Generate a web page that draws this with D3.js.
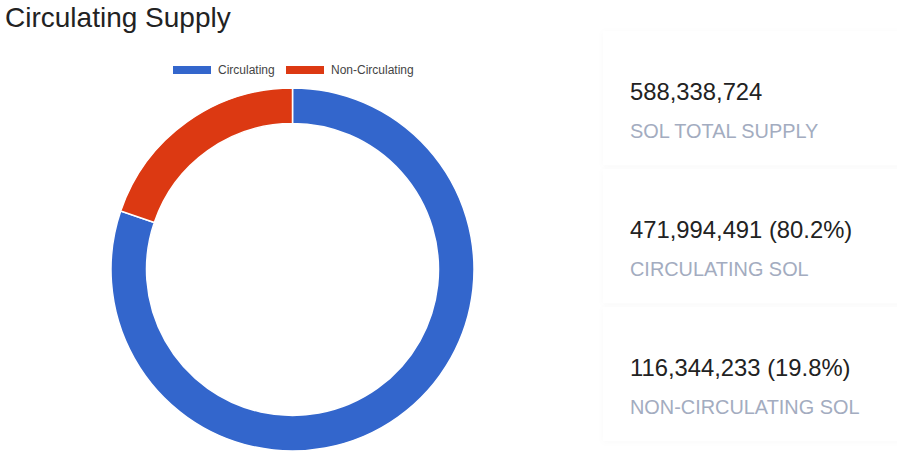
<!DOCTYPE html>
<html><head><meta charset="utf-8">
<script src="https://cdn.jsdelivr.net/npm/d3@7"></script>
<style>
html,body{margin:0;padding:0;background:#fff;overflow:hidden;}
svg{display:block;font-family:Arial,"Liberation Sans",sans-serif;}
</style></head><body>
<svg id="c" width="897" height="462"></svg>
<script>
const categories = ["Circulating", "Non-Circulating"];
const values = [471994491, 116344233];
const colors = ["#3366cc", "#dc3912"];
const statNumbers = ["588,338,724", "471,994,491 (80.2%)", "116,344,233 (19.8%)"];
const statLabels = ["SOL TOTAL SUPPLY", "CIRCULATING SOL", "NON-CIRCULATING SOL"];

const svg = d3.select("#c");
const defs = svg.append("defs");
const f = defs.append("filter").attr("id","sh").attr("x","-5%").attr("y","-10%").attr("width","110%").attr("height","120%");
f.append("feDropShadow").attr("dx",0).attr("dy",1).attr("stdDeviation",3).attr("flood-color","#000").attr("flood-opacity",0.025);

// title
svg.append("text").attr("x",5).attr("y",27).attr("font-size",28).attr("fill","#222").text("Circulating Supply");

// cards
const cardG = svg.append("g");
statNumbers.forEach((n,i)=>{
  const y0 = 31 + i*138;
  cardG.append("rect").attr("x",603).attr("y",y0).attr("width",310).attr("height",134)
    .attr("fill","#fff").attr("filter","url(#sh)");
  cardG.append("text").attr("x",630).attr("y",y0+69).attr("font-size",23.8).attr("fill","#222").text(n);
  cardG.append("text").attr("x",630).attr("y",y0+107).attr("font-size",19.9).attr("fill","#a3acc0").text(statLabels[i]);
});

// donut
const cx = 292.5, cy = 269.5, R = 181.5, r = 146;
const pie = d3.pie().sort(null).value(d=>d)(values);
const arc = d3.arc().innerRadius(r).outerRadius(R);
const g = svg.append("g").attr("transform",`translate(${cx},${cy})`);
g.selectAll("path").data(pie).join("path")
  .attr("d",arc).attr("fill",(d,i)=>colors[i]).attr("stroke","#fff").attr("stroke-width",1.5);

// legend
const legX = [173, 286];
const lg = svg.append("g");
categories.forEach((c,i)=>{
  lg.append("rect").attr("x",legX[i]).attr("y",66).attr("width",38).attr("height",8).attr("fill",colors[i]);
  lg.append("text").attr("x",legX[i]+45).attr("y",74).attr("font-size",12).attr("fill","#444").text(c);
});
</script>
</body></html>
